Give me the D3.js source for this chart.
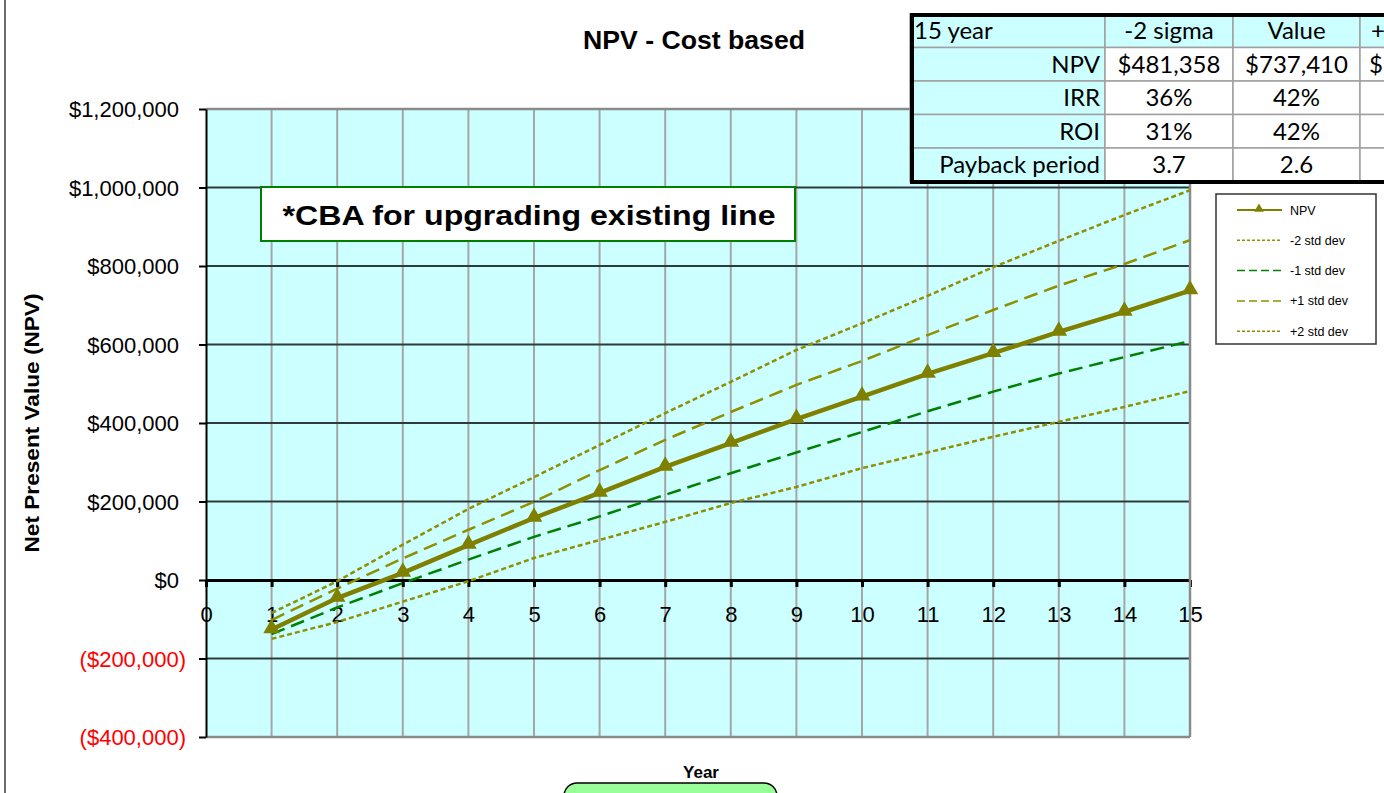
<!DOCTYPE html>
<html>
<head>
<meta charset="utf-8">
<script src="https://cdn.jsdelivr.net/npm/d3@7/dist/d3.min.js"></script>
<style>
  html, body { margin: 0; padding: 0; background: #fff; overflow: hidden; }
  svg { display: block; }
</style>
</head>
<body>
<svg id="chart" width="1384" height="793"></svg>
<script>
// ---------------- DATA ----------------
const years = [1, 2, 3, 4, 5, 6, 7, 8, 9, 10, 11, 12, 13, 14, 15];
const npv    = [-126000, -46000, 18000, 89000, 158000, 222000, 288000, 349000, 410000, 467000, 525000, 578000, 632000, 683000, 737410];
const minus2 = [-150000, -107000, -55000, -3000, 56000, 102000, 148000, 196000, 237000, 285000, 325000, 365000, 403000, 441000, 481358];
const minus1 = [-138000, -70000, -8000, 52000, 110000, 162000, 217000, 272000, 325000, 377000, 430000, 480000, 526000, 568000, 609000];
const plus1  = [-102000, -22000, 55000, 128000, 199000, 280000, 357000, 428000, 497000, 558000, 624000, 688000, 750000, 805000, 866000];
const plus2  = [-84000, -3000, 90000, 181000, 262000, 344000, 425000, 505000, 586000, 654000, 724000, 797000, 864000, 930000, 993000];

const xTicks = [0, 1, 2, 3, 4, 5, 6, 7, 8, 9, 10, 11, 12, 13, 14, 15];
const yTicks = [-400000, -200000, 0, 200000, 400000, 600000, 800000, 1000000, 1200000];

const seriesNames = ["NPV", "-2 std dev", "-1 std dev", "+1 std dev", "+2 std dev"];

// table (the 4th column is cut off at the picture's right edge; only its first characters show)
const tableHeader = ["15 year", "-2 sigma", "Value", "+"];
const tableRowLabels = ["NPV", "IRR", "ROI", "Payback period"];
const colMinus2 = ["$481,358", "36%", "31%", "3.7"];
const colValue = ["$737,410", "42%", "42%", "2.6"];
const colPlus2 = ["$", "", "", ""];

const chartTitle = "NPV - Cost based";
const noteText = "*CBA for upgrading existing line";
const xTitle = "Year";
const yTitle = "Net Present Value (NPV)";

// ---------------- LAYOUT ----------------
const svg = d3.select("#chart");
const W = 1384, H = 793;
const plot = { left: 206, right: 1190, top: 109, bottom: 737 };
const FONT = "'Liberation Sans', Arial, sans-serif";
const TFONT = "Lato, 'Open Sans', sans-serif";

const x = d3.scaleLinear().domain([0, 15]).range([plot.left, plot.right]);
const y = d3.scaleLinear().domain([-400000, 1200000]).range([plot.bottom, plot.top]);

// left frame line
svg.append("line").attr("x1", 5).attr("x2", 5).attr("y1", 0).attr("y2", H)
  .attr("stroke", "#6b6b6b").attr("stroke-width", 2);

// plot background
svg.append("rect")
  .attr("x", plot.left).attr("y", plot.top)
  .attr("width", plot.right - plot.left).attr("height", plot.bottom - plot.top)
  .attr("fill", "#ccffff");

// vertical gridlines
svg.append("g").selectAll("line").data(xTicks.filter(d => d > 0))
  .join("line")
  .attr("x1", d => x(d)).attr("x2", d => x(d))
  .attr("y1", plot.top).attr("y2", plot.bottom)
  .attr("stroke", "#a6a6a6").attr("stroke-width", 2);

// horizontal gridlines
svg.append("g").selectAll("line").data(yTicks.filter(d => d !== 0))
  .join("line")
  .attr("x1", plot.left).attr("x2", plot.right)
  .attr("y1", d => y(d)).attr("y2", d => y(d))
  .attr("stroke", d => (d === 1200000 || d === -400000) ? "#8a8a8a" : "#2e3b3b")
  .attr("stroke-width", d => (d === 1200000 || d === -400000) ? 2.5 : 2);

// y axis via d3.axisLeft
const yAxis = d3.axisLeft(y).tickValues(yTicks).tickSize(7).tickSizeOuter(0)
  .tickFormat(d => d < 0 ? "($" + d3.format(",")(-d) + ")" : "$" + d3.format(",")(d));
const gy = svg.append("g").attr("transform", `translate(${plot.left},0)`).call(yAxis);
gy.select(".domain").attr("stroke", "#000").attr("stroke-width", 2);
gy.selectAll(".tick line").attr("stroke", "#000").attr("stroke-width", 2);
gy.selectAll(".tick text")
  .attr("font-family", FONT).attr("font-size", 22)
  .attr("fill", d => d < 0 ? "#ff0000" : "#000")
  .attr("x", d => d < 0 ? -20 : -27)
  .attr("dy", "0.35em");

// x axis on zero line
const xAxis = d3.axisBottom(x).tickValues(xTicks).tickSize(7).tickSizeOuter(0).tickFormat(d3.format("d"));
const gx = svg.append("g").attr("transform", `translate(0,${y(0)})`).call(xAxis);
gx.select(".domain").attr("stroke", "#000").attr("stroke-width", 3);
gx.selectAll(".tick line").attr("stroke", "#000").attr("stroke-width", 3);
gx.selectAll(".tick text")
  .attr("font-family", FONT).attr("font-size", 22).attr("fill", "#000")
  .attr("y", 26).attr("dy", "0.71em");

// right border at 15
svg.append("line").attr("x1", plot.right).attr("x2", plot.right)
  .attr("y1", plot.top).attr("y2", plot.bottom)
  .attr("stroke", "#8a8a8a").attr("stroke-width", 2.5);

// ---------------- SERIES ----------------
const line = d3.line().x(d => x(d[0])).y(d => y(d[1]));
const zipS = vals => years.map((yr, i) => [yr, vals[i]]);

const styles = {
  "-2 std dev": { data: minus2, color: "#8f8f00", width: 2.5, dash: "5,3" },
  "+2 std dev": { data: plus2, color: "#8f8f00", width: 2.5, dash: "5,3" },
  "+1 std dev": { data: plus1, color: "#8f8f00", width: 2.5, dash: "14,7" },
  "-1 std dev": { data: minus1, color: "#008000", width: 2.5, dash: "14,7" },
  "NPV": { data: npv, color: "#808000", width: 4.5, dash: null }
};

["-2 std dev", "+2 std dev", "+1 std dev", "-1 std dev", "NPV"].forEach(name => {
  const s = styles[name];
  svg.append("path").datum(zipS(s.data))
    .attr("d", line).attr("fill", "none")
    .attr("stroke", s.color).attr("stroke-width", s.width)
    .attr("stroke-dasharray", s.dash);
});

const tri = d3.symbol().type(d3.symbolTriangle).size(120);
svg.append("g").selectAll("path").data(zipS(npv)).join("path")
  .attr("d", tri)
  .attr("transform", d => `translate(${x(d[0])},${y(d[1]) - 1})`)
  .attr("fill", "#808000");

// ---------------- TEXT ----------------
svg.append("text").attr("x", 694).attr("y", 49)
  .attr("text-anchor", "middle").attr("font-family", FONT)
  .attr("font-weight", "bold").attr("font-size", 25)
  .attr("textLength", 222).attr("lengthAdjust", "spacingAndGlyphs")
  .text(chartTitle);

// note box
svg.append("rect").attr("x", 261).attr("y", 187).attr("width", 534).attr("height", 54)
  .attr("fill", "#fff").attr("stroke", "#008000").attr("stroke-width", 2);
svg.append("text").attr("x", 529).attr("y", 225)
  .attr("text-anchor", "middle").attr("font-family", FONT)
  .attr("font-weight", "bold").attr("font-size", 28)
  .attr("textLength", 493).attr("lengthAdjust", "spacingAndGlyphs")
  .text(noteText);

// axis titles
svg.append("text").attr("x", 701).attr("y", 778)
  .attr("text-anchor", "middle").attr("font-family", FONT)
  .attr("font-weight", "bold").attr("font-size", 17).text(xTitle);
svg.append("text")
  .attr("transform", "translate(39,423) rotate(-90)")
  .attr("text-anchor", "middle").attr("font-family", FONT)
  .attr("font-weight", "bold").attr("font-size", 21)
  .attr("textLength", 259).attr("lengthAdjust", "spacingAndGlyphs")
  .text(yTitle);

// green button at bottom
svg.append("rect").attr("x", 564).attr("y", 783).attr("width", 213).attr("height", 40)
  .attr("rx", 13).attr("ry", 13)
  .attr("fill", "#99ff99").attr("stroke", "#000").attr("stroke-width", 1.5);

// ---------------- LEGEND ----------------
const lg = svg.append("g");
lg.append("rect").attr("x", 1216).attr("y", 194).attr("width", 160).attr("height", 150)
  .attr("fill", "#fff").attr("stroke", "#333").attr("stroke-width", 1.5);
const legendOrder = ["NPV", "-2 std dev", "-1 std dev", "+1 std dev", "+2 std dev"];
legendOrder.forEach((name, i) => {
  const s = styles[name];
  const ly = 210 + i * 30.3;
  lg.append("line").attr("x1", 1237).attr("x2", 1282).attr("y1", ly).attr("y2", ly)
    .attr("stroke", s.color).attr("stroke-width", name === "NPV" ? 2 : 1.5)
    .attr("stroke-dasharray", name === "NPV" ? null : (s.dash === "5,3" ? "3,2" : "8,4"));
  if (name === "NPV") {
    lg.append("path").attr("d", d3.symbol().type(d3.symbolTriangle).size(40))
      .attr("transform", `translate(1259,${ly - 1})`).attr("fill", "#808000");
  }
  lg.append("text").attr("x", 1290).attr("y", ly + 4.5)
    .attr("font-family", FONT).attr("font-size", 12.5).attr("fill", "#000").text(name);
});

// ---------------- TABLE ----------------
const tg = svg.append("g");
const colX = [910, 1105, 1233, 1360, 1490];
const rowY = [14, 47.5, 81, 114.5, 148, 182];
const TFS = 24;
for (let r = 0; r < 5; r++) {
  for (let c = 0; c < 4; c++) {
    const cyan = (r === 0 || c === 0);
    tg.append("rect").attr("x", colX[c]).attr("y", rowY[r])
      .attr("width", colX[c + 1] - colX[c]).attr("height", rowY[r + 1] - rowY[r])
      .attr("fill", cyan ? "#ccffff" : "#fff")
      .attr("stroke", "#a0a0a0").attr("stroke-width", 1.5);
  }
}
tg.append("rect").attr("x", 912).attr("y", 15).attr("width", 600).attr("height", 167)
  .attr("fill", "none").attr("stroke", "#000").attr("stroke-width", 4);

// header row
tableHeader.forEach((h, c) => {
  const t = tg.append("text").attr("y", rowY[0] + 25)
    .attr("font-family", TFONT).attr("font-size", TFS).attr("fill", "#000").text(h);
  if (c === 0) t.attr("x", 914).attr("text-anchor", "start");
  else if (c === 3) t.attr("x", 1371).attr("text-anchor", "start");
  else t.attr("x", (colX[c] + colX[c + 1]) / 2).attr("text-anchor", "middle");
});
// body rows
tableRowLabels.forEach((lab, r) => {
  const by = rowY[r + 1] + 25;
  tg.append("text").attr("x", 1100).attr("y", by).attr("text-anchor", "end")
    .attr("font-family", TFONT).attr("font-size", TFS).text(lab);
  [colMinus2, colValue].forEach((col, ci) => {
    const c = ci + 1;
    tg.append("text").attr("x", (colX[c] + colX[c + 1]) / 2).attr("y", by)
      .attr("text-anchor", "middle").attr("font-family", TFONT).attr("font-size", TFS)
      .text(col[r]);
  });
  if (colPlus2[r]) {
    tg.append("text").attr("x", 1369).attr("y", by).attr("text-anchor", "start")
      .attr("font-family", TFONT).attr("font-size", TFS).text(colPlus2[r]);
  }
});
</script>
</body>
</html>
